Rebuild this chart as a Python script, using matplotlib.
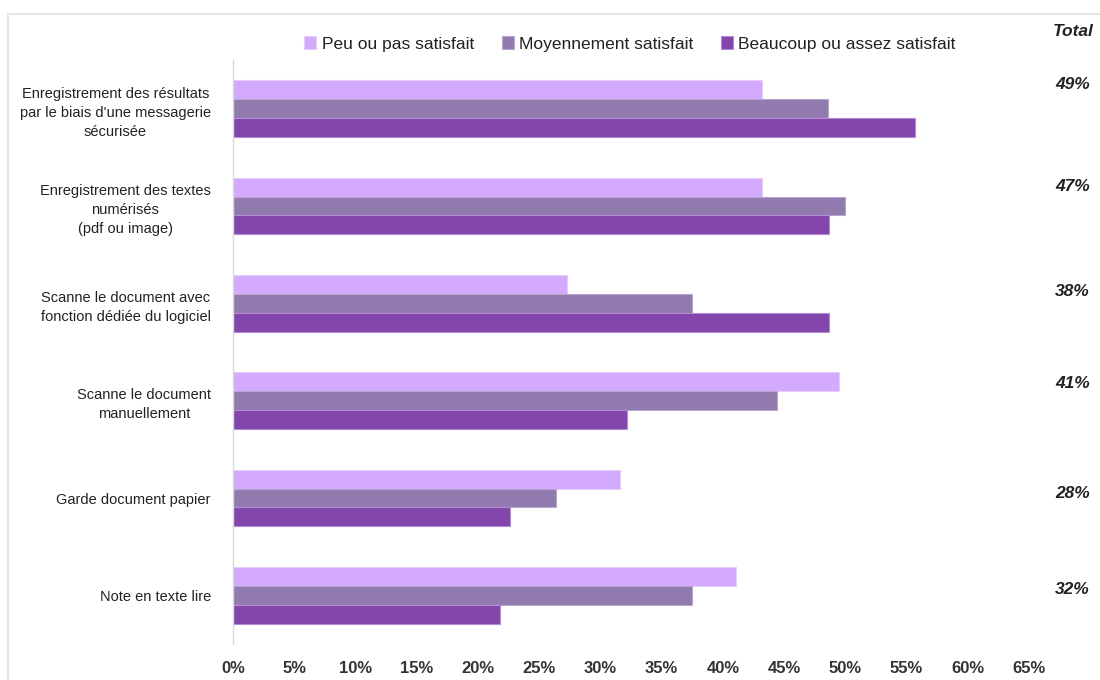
import matplotlib
matplotlib.use("Agg")
import matplotlib.pyplot as plt
import matplotlib.transforms as mtransforms
import numpy as np
from matplotlib.patches import Rectangle

categories = [
    "Enregistrement des résultats\npar le biais d'une messagerie\nsécurisée",
    "Enregistrement des textes\nnumérisés\n(pdf ou image)",
    "Scanne le document avec\nfonction dédiée du logiciel",
    "Scanne le document\nmanuellement",
    "Garde document papier",
    "Note en texte lire",
]
series_names = ["Peu ou pas satisfait", "Moyennement satisfait", "Beaucoup ou assez satisfait"]
peu = [43.2, 43.2, 27.3, 49.5, 31.6, 41.1]
moyen = [48.6, 50.0, 37.5, 44.4, 26.4, 37.5]
beaucoup = [55.7, 48.7, 48.7, 32.2, 22.6, 21.8]
totals = ["49%", "47%", "38%", "41%", "28%", "32%"]
x_ticks = list(range(0, 70, 5))

colors = ["#D4AAFC", "#907AAE", "#8346AA"]
edges = ["#E6CCFF", "#B8A6D0", "#B58AD6"]
fonts = ["Liberation Sans", "DejaVu Sans"]

W, H = 1100, 680
fig = plt.figure(figsize=(11, 6.8), dpi=100)

# light frame around the chart area
fig.add_artist(Rectangle((8 / W, -0.05), 1.2, 1 - 14 / H + 0.05, transform=fig.transFigure,
                         fill=False, edgecolor="#E3E3E3", linewidth=1.3))

ax = fig.add_axes([233 / W, 1 - 644 / H, (1029 - 233) / W, (644 - 60) / H])

y = np.arange(len(categories))
bh = 0.195
for i, (vals, c, e, name) in enumerate(zip([peu, moyen, beaucoup], colors, edges, series_names)):
    ax.barh(y + (i - 1) * bh, vals, height=bh, color=c, edgecolor=e, linewidth=0.8, label=name)

ax.set_xlim(0, 65)
ax.set_ylim(len(categories) - 0.5, -0.5)
ax.set_xticks(x_ticks)
ax.set_xticklabels([f"{v}%" for v in x_ticks], fontfamily=fonts,
                   fontweight="bold", fontsize=12, color="#333333")
ax.set_yticks(y)
ax.set_yticklabels(categories, fontfamily=fonts, fontsize=10.5, color="#222222")
for t in ax.get_yticklabels():
    t.set_multialignment("center")
    t.set_linespacing(1.45)
ax.tick_params(axis="x", length=0, pad=12)
ax.tick_params(axis="y", length=0, pad=16)
for s in ["top", "right", "bottom"]:
    ax.spines[s].set_visible(False)
ax.spines["left"].set_color("#D9D9D9")
ax.spines["left"].set_linewidth(1.0)

# totals column on the right
total_offsets = [-0.25, -0.2, -0.12, -0.18, -0.05, -0.06]
trans = mtransforms.blended_transform_factory(fig.transFigure, ax.transData)
for yi, (lab, off) in enumerate(zip(totals, total_offsets)):
    fig.text(1090 / W, yi + off, lab, transform=trans, ha="right", va="center",
             fontsize=12.5, fontweight="bold", fontstyle="italic", color="#222222",
             fontfamily=fonts)
fig.text(1094 / W, 1 - 31 / H, "Total", ha="right", va="center", fontsize=12.5,
         fontweight="bold", fontstyle="italic", color="#222222", fontfamily=fonts)

leg = fig.legend(loc="center", bbox_to_anchor=(630 / W, 1 - 44 / H), ncol=3, frameon=False,
                 handlelength=0.7, handleheight=0.7, handletextpad=0.3, columnspacing=1.6,
                 prop={"family": fonts, "size": 12.5})
for t in leg.get_texts():
    t.set_color("#222222")

fig.savefig("out.png", dpi=100)
